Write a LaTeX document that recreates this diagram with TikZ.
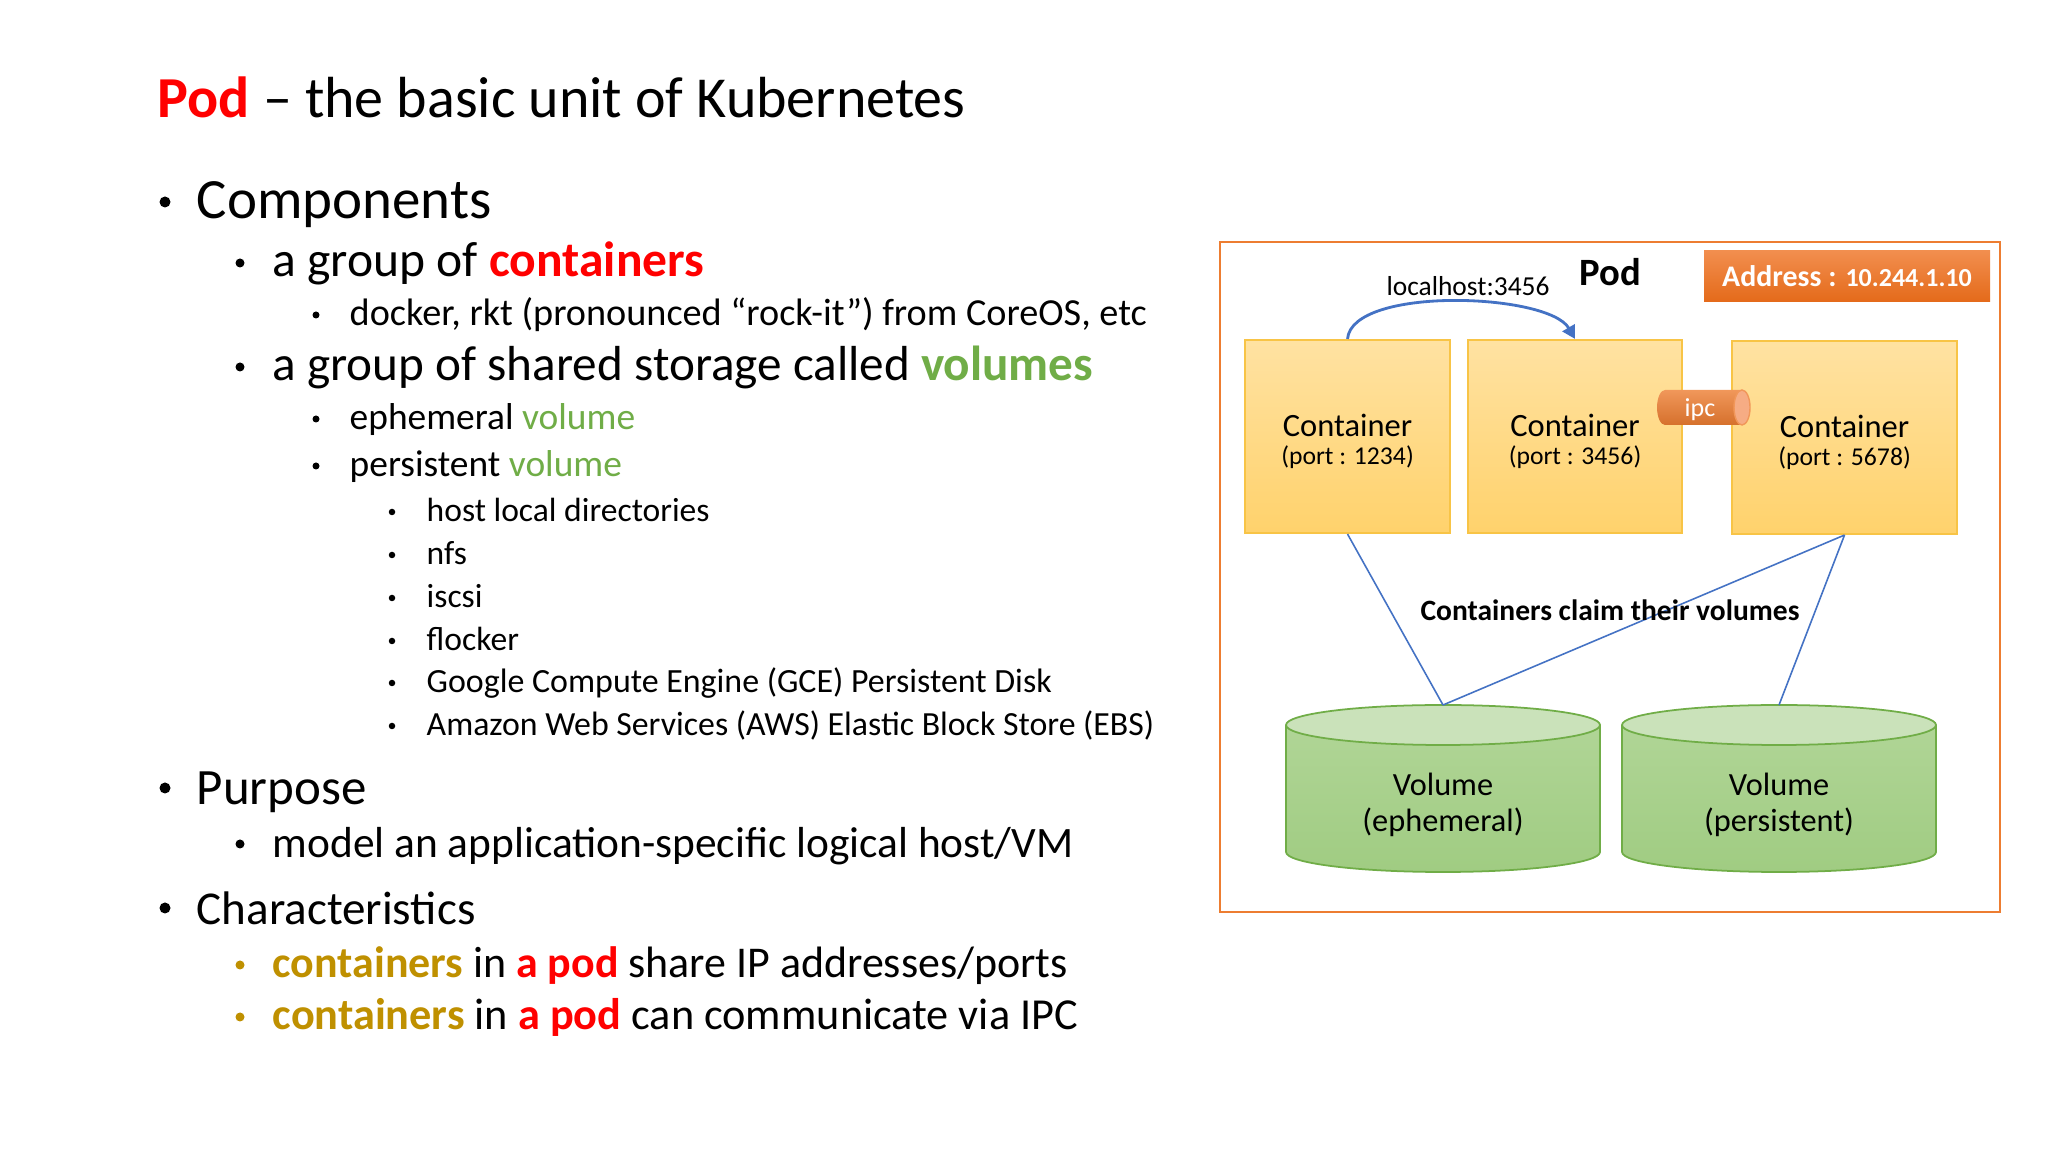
\documentclass[tikz,border=0pt]{standalone}
\usepackage{fontspec}
\setmainfont{Carlito}
\usepackage{tikz}
\usetikzlibrary{arrows.meta}

\definecolor{podred}{RGB}{255,0,0}
\definecolor{volgreen}{RGB}{112,173,71}
\definecolor{chargold}{RGB}{191,144,0}
\definecolor{podorange}{RGB}{237,125,49}
\definecolor{linkblue}{RGB}{68,114,196}
\definecolor{boxtop}{RGB}{255,226,162}
\definecolor{boxbot}{RGB}{255,210,108}
\definecolor{boxline}{RGB}{248,196,70}
\definecolor{voltop}{RGB}{202,226,186}
\definecolor{volbodytop}{RGB}{176,213,150}
\definecolor{volbodybot}{RGB}{160,204,130}
\definecolor{addrtop}{RGB}{242,142,78}
\definecolor{addrbot}{RGB}{228,106,26}
\definecolor{ipcend}{RGB}{246,172,132}

\newcommand{\fsz}[1]{\fontsize{#1}{1.2\dimexpr #1pt\relax}\selectfont}
\newcommand{\contlabel}[1]{{\fontsize{9.25}{8}\selectfont\rule{0pt}{9.4pt}Container}\\(port : #1)}

\tikzset{
	line/.style={anchor=base west, inner sep=0pt},
	dotone/.style={circle, fill, inner sep=0pt, minimum size=1.1mm},
	dottwo/.style={circle, fill, inner sep=0pt, minimum size=0.9mm},
	dotthree/.style={circle, fill, inner sep=0pt, minimum size=0.7mm},
	dotfour/.style={circle, fill, inner sep=0pt, minimum size=0.65mm},
	container/.style={draw=boxline, line width=0.6pt, top color=boxtop, bottom color=boxbot,
		minimum height=19.3mm, align=center, inner sep=0pt, font=\fontsize{7.3}{8}\selectfont},
	volbody/.style={top color=volbodytop, bottom color=volbodybot, draw=volgreen, line width=0.5pt},
	voltext/.style={align=center, inner sep=0pt, font=\fontsize{9.2}{10.2}\selectfont},
	claim/.style={draw=linkblue, line width=0.45pt},
}

\begin{document}
\begin{tikzpicture}[x=0.1mm,y=-0.1mm]
	\fill[white] (0,0) rectangle (2048,1152);
	\useasboundingbox (0,0) rectangle (2048,1152);

	% title and bullet list
	\node[line, font=\fsz{16.5}] (title) at (157,118) {\textcolor{podred}{\textbf{Pod}} – the basic unit of Kubernetes};

	\node[dotone] (bcomp) at (165,202) {};
	\node[line, font=\fsz{16.2}] (comp) at (196,219) {Components};
	\node[dottwo] (bcont) at (240,263) {};
	\node[line, font=\fsz{14.1}] (cont) at (272,277) {a group of \textcolor{podred}{\textbf{containers}}};
	\node[dotthree] (bdock) at (316,315) {};
	\node[line, font=\fsz{10.88}] (dock) at (349,326) {docker, rkt (pronounced “rock-it”) from CoreOS, etc};
	\node[dottwo] (bvols) at (240,367) {};
	\node[line, font=\fsz{14}] (vols) at (272,381) {a group of shared storage called \textcolor{volgreen}{\textbf{volumes}}};
	\node[dotthree] (bephem) at (316,419) {};
	\node[line, font=\fsz{10.65}] (ephem) at (349,430) {ephemeral \textcolor{volgreen}{volume}};
	\node[dotthree] (bpers) at (316,466) {};
	\node[line, font=\fsz{10.65}] (pers) at (349,477) {persistent \textcolor{volgreen}{volume}};
	\node[dotfour] (bhost) at (392,512) {};
	\node[line, font=\fsz{9.55}] (host) at (426,522) {host local directories};
	\node[dotfour] (bnfs) at (392,555) {};
	\node[line, font=\fsz{9.55}] (nfs) at (426,565) {nfs};
	\node[dotfour] (biscsi) at (392,598) {};
	\node[line, font=\fsz{9.55}] (iscsi) at (426,608) {iscsi};
	\node[dotfour] (bflock) at (392,641) {};
	\node[line, font=\fsz{9.55}] (flock) at (426,651) {flocker};
	\node[dotfour] (bgce) at (392,683) {};
	\node[line, font=\fsz{9.65}] (gce) at (426,693) {Google Compute Engine (GCE) Persistent Disk};
	\node[dotfour] (baws) at (392,726) {};
	\node[line, font=\fsz{9.62}] (aws) at (426,736) {Amazon Web Services (AWS) Elastic Block Store (EBS)};

	\node[dotone] (bpurp) at (165,788) {};
	\node[line, font=\fsz{14.5}] (purp) at (196,805) {Purpose};
	\node[dottwo] (bmodel) at (240,844) {};
	\node[line, font=\fsz{12.35}] (model) at (272,858) {model an application-specific logical host/VM};
	\node[dotone] (bchars) at (165,908) {};
	\node[line, font=\fsz{13.4}] (chars) at (196,925) {Characteristics};
	\node[dottwo, chargold] (bshare) at (240,965) {};
	\node[line, font=\fsz{12.5}] (share) at (272,978) {\textcolor{chargold}{\textbf{containers}} in \textcolor{podred}{\textbf{a pod}} share IP addresses/ports};
	\node[dottwo, chargold] (bipcl) at (240,1017) {};
	\node[line, font=\fsz{12.6}] (ipcl) at (272,1030) {\textcolor{chargold}{\textbf{containers}} in \textcolor{podred}{\textbf{a pod}} can communicate via IPC};

	% pod diagram
	\draw[podorange, line width=0.6pt] (1220,242) rectangle (2000,912);
	\node[font=\fontsize{11}{13}\selectfont\bfseries] (podlbl) at (1610,272) {Pod};
	\node[top color=addrtop, bottom color=addrbot, minimum width=28.6mm, minimum height=5.1mm, inner sep=0pt,
		text=white, font=\bfseries] (addr) at (1847,276.5)
		{\fontsize{8.5}{10}\selectfont Address : \fontsize{7.4}{10}\selectfont 10.244.1.10};
	\node[font=\fontsize{7.8}{9}\selectfont] (lhost) at (1468,286) {localhost:3456};

	\node[container, minimum width=20.5mm] (c1) at (1347.5,436.5) {\contlabel{1234}};
	\node[container, minimum width=21.4mm] (c2) at (1575,436.5) {\contlabel{3456}};
	\node[container, minimum width=22.5mm] (c3) at (1844.5,437.5) {\contlabel{5678}};

	\draw[linkblue, line width=0.8pt, -{Triangle[length=1.3mm,width=1.4mm]}]
		(c1.north) to[out=85,in=120,looseness=0.6] (c2.north);

	% ipc pipe
	\shade[top color=podorange!80!white, bottom color=podorange!90!black]
		(1742,390) arc[start angle=-90,end angle=90,x radius=8,y radius=17.5]
		-- (1665,425) arc[start angle=90,end angle=270,x radius=8,y radius=17.5] -- cycle;
	\draw[fill=ipcend, draw=podorange!80!white, line width=0.4pt] (1742,407.5) ellipse[x radius=8,y radius=17.5];
	\node[text=white, font=\fontsize{7.4}{9}\selectfont] (ipc) at (1700,410) {ipc};

	% volumes
	\coordinate (v1top) at (1443,705);
	\coordinate (v2top) at (1779,705);
	\draw[volbody] (1286,725) -- (1286,852) arc[start angle=180,end angle=0,x radius=157,y radius=20] -- (1600,725);
	\draw[fill=voltop, draw=volgreen, line width=0.5pt] (1443,725) ellipse[x radius=157,y radius=20];
	\draw[volbody] (1622,725) -- (1622,852) arc[start angle=180,end angle=0,x radius=157,y radius=20] -- (1936,725);
	\draw[fill=voltop, draw=volgreen, line width=0.5pt] (1779,725) ellipse[x radius=157,y radius=20];
	\node[voltext] (v1) at (1443,805) {Volume\\(ephemeral)};
	\node[voltext] (v2) at (1779,805) {Volume\\(persistent)};

	\draw[claim] (c1.south) -- (v1top);
	\draw[claim] (c3.south) -- (v1top);
	\draw[claim] (c3.south) -- (v2top);
	\node[font=\fontsize{8.4}{10}\selectfont\bfseries] (claimlbl) at (1610,610) {Containers claim their volumes};
\end{tikzpicture}
\end{document}
